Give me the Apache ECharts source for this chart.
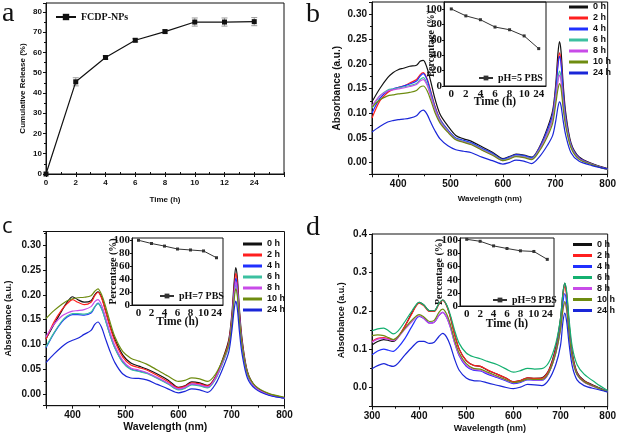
<!DOCTYPE html>
<html><head><meta charset="utf-8">
<script src="https://cdn.jsdelivr.net/npm/echarts@6.0.0/dist/echarts.min.js"></script>
<style>html,body{margin:0;padding:0;background:#fff}#c{width:619px;height:439px}</style>
</head><body><div id="c"></div>
<script>
// ---------- data ----------
const aTime = ['0','2','4','6','8','10','12','24'];
const aRelease = [0, 45.5, 57.5, 66, 70.3, 75, 75, 75.2];
const aError = [0, 2, 0.8, 0.8, 0.8, 2, 2, 2];

const insetTime = ['0','2','4','6','8','10','24'];
const insetPH5 = [100, 91, 86, 76.5, 73, 65, 48.5];
const insetPH7 = [100, 95, 91, 86.5, 85, 83.5, 73];
const insetPH9 = [101.5, 98.5, 91.5, 87.5, 84, 83, 71];

const hourNames = ['0 h','2 h','4 h','6 h','8 h','10 h','24 h'];

const wlBC = [350,365,380,390,400,410,422,435,442,448,455,462,470,480,495,510,525,540,560,580,600,612,625,640,655,670,685,695,701,705,708,711,715,720,730,745,770,800];
const wlD = [300,312,325,335,345,355,370,385,400,410,422,432,442,450,458,466,475,485,500,515,530,545,565,585,600,615,630,645,660,675,690,700,705,709,713,718,725,735,750,775,800];

const b0h = [.123,.150,.172,.182,.188,.191,.195,.197,.205,.207,.192,.165,.13,.098,.074,.055,.048,.043,.032,.021,.008,.012,.017,.015,.011,.032,.07,.105,.16,.22,.245,.225,.16,.1,.04,.012,-.002,-.012];
const b2h = [.09,.125,.142,.148,.152,.155,.161,.168,.178,.182,.17,.145,.115,.088,.065,.048,.042,.038,.028,.018,.006,.01,.015,.013,.009,.03,.065,.098,.15,.2,.222,.205,.145,.09,.036,.01,-.003,-.013];
const b4h = [.10,.13,.145,.149,.152,.155,.159,.165,.175,.18,.168,.143,.113,.087,.066,.05,.045,.04,.029,.019,.007,.011,.016,.014,.01,.03,.066,.098,.148,.195,.215,.2,.142,.09,.036,.01,-.003,-.013];
const b6h = [.11,.135,.147,.149,.151,.153,.156,.16,.168,.172,.16,.138,.11,.085,.064,.048,.043,.038,.027,.017,.005,.009,.014,.012,.008,.027,.06,.09,.135,.17,.185,.172,.125,.082,.033,.008,-.004,-.014];
const b8h = [.115,.135,.145,.147,.149,.151,.154,.158,.165,.168,.157,.135,.108,.083,.063,.047,.042,.037,.026,.016,.004,.008,.013,.011,.007,.026,.058,.087,.13,.163,.177,.165,.12,.079,.032,.008,-.004,-.014];
const b10h = [.112,.127,.135,.137,.139,.14,.142,.146,.153,.155,.146,.127,.102,.08,.061,.046,.041,.036,.025,.015,.004,.007,.012,.01,.006,.024,.053,.08,.12,.148,.16,.15,.11,.073,.03,.007,-.004,-.014];
const b24h = [.062,.073,.082,.085,.087,.088,.09,.095,.103,.106,.098,.082,.065,.048,.034,.026,.023,.02,.011,.004,-.003,0,.005,.003,-.002,.012,.035,.055,.085,.112,.123,.115,.085,.055,.02,.003,-.006,-.013];

const c0h = [.111,.14,.168,.185,.196,.19,.185,.188,.2,.206,.195,.17,.14,.11,.078,.062,.056,.05,.04,.028,.013,.016,.024,.022,.017,.035,.075,.11,.165,.225,.255,.235,.17,.11,.045,.015,0,-.008];
const c2h = [.11,.145,.17,.182,.19,.185,.18,.185,.198,.205,.193,.168,.138,.106,.074,.058,.053,.048,.037,.025,.012,.015,.022,.02,.016,.034,.072,.106,.158,.215,.243,.225,.163,.105,.043,.014,-.001,-.008];
const c4h = [.093,.122,.145,.155,.16,.16,.159,.163,.175,.183,.172,.15,.122,.093,.064,.05,.046,.042,.032,.021,.009,.012,.019,.017,.013,.031,.068,.1,.15,.205,.233,.215,.156,.1,.041,.013,-.002,-.009];
const c6h = [.095,.123,.147,.157,.162,.162,.161,.165,.176,.182,.171,.149,.121,.092,.063,.049,.045,.041,.031,.02,.008,.011,.018,.016,.012,.03,.066,.097,.145,.195,.22,.203,.148,.095,.039,.012,-.002,-.009];
const c8h = [.115,.14,.157,.163,.167,.168,.17,.176,.186,.19,.179,.156,.127,.097,.067,.052,.048,.043,.033,.022,.01,.013,.02,.018,.014,.032,.068,.1,.15,.2,.226,.208,.152,.098,.04,.013,-.002,-.009];
const c10h = [.152,.168,.181,.188,.192,.194,.195,.198,.207,.212,.2,.178,.148,.115,.085,.072,.066,.06,.048,.036,.025,.027,.032,.03,.025,.04,.072,.1,.145,.19,.212,.198,.148,.098,.042,.016,.001,-.007];
const c24h = [.063,.08,.095,.103,.108,.112,.12,.128,.14,.145,.134,.112,.088,.063,.04,.032,.031,.028,.019,.01,.002,.005,.01,.008,.003,.02,.055,.085,.13,.17,.187,.172,.125,.08,.032,.01,-.003,-.009];

const d0h = [.111,.12,.125,.123,.12,.13,.16,.195,.222,.215,.2,.2,.218,.228,.215,.185,.14,.1,.07,.058,.055,.045,.035,.024,.015,.018,.025,.024,.025,.045,.105,.18,.245,.272,.245,.17,.09,.04,.018,.003,-.01];
const d2h = [.12,.128,.13,.127,.123,.132,.16,.193,.22,.213,.198,.198,.217,.227,.214,.185,.14,.1,.07,.058,.055,.046,.035,.024,.015,.018,.025,.024,.024,.044,.1,.172,.235,.263,.237,.165,.087,.038,.017,.002,-.01];
const d4h = [.085,.095,.1,.097,.094,.104,.128,.16,.185,.18,.168,.17,.188,.196,.184,.158,.118,.083,.055,.045,.043,.035,.026,.017,.01,.013,.02,.019,.019,.038,.093,.16,.22,.245,.22,.152,.08,.035,.015,.001,-.01];
const d6h = [.148,.153,.155,.148,.14,.147,.172,.2,.222,.215,.2,.2,.219,.228,.216,.19,.15,.115,.09,.08,.075,.068,.06,.048,.04,.044,.05,.048,.049,.065,.115,.18,.245,.272,.25,.18,.105,.06,.035,.012,-.008];
const d8h = [.118,.126,.128,.125,.122,.13,.152,.172,.187,.18,.167,.17,.188,.196,.184,.158,.118,.085,.058,.047,.045,.037,.028,.019,.012,.015,.021,.02,.02,.038,.09,.15,.2,.22,.2,.14,.075,.033,.014,0,-.011];
const d10h = [.135,.137,.135,.13,.125,.133,.155,.176,.19,.184,.172,.175,.196,.204,.192,.166,.125,.09,.062,.05,.048,.04,.03,.02,.013,.016,.022,.021,.021,.039,.09,.152,.203,.224,.204,.143,.077,.034,.015,.001,-.011];
const d24h = [.049,.057,.062,.058,.055,.063,.085,.105,.12,.12,.115,.118,.133,.141,.132,.11,.075,.045,.025,.018,.017,.012,.006,0,-.003,.001,.008,.007,.005,.02,.06,.11,.17,.194,.172,.115,.055,.02,.005,-.004,-.012];

// ---------- style ----------
const SANS = 'Liberation Sans', SERIF = 'Liberation Serif';
const INK = '#111';
const hourColors = ['#111111','#ff1f1f','#2030ff','#3cc0a0','#c84be8','#6e8c10','#1a26d8'];
const hourColorsD = ['#111111','#ff1f1f','#2030ff','#14b070','#c84be8','#6e8c10','#1a26d8'];

function txt(size, fam, extra) { return Object.assign({fontFamily: fam, fontWeight: 'bold', fontSize: size, color: INK}, extra || {}); }
const axLine = {show: true, onZero: false, lineStyle: {color: INK, width: 1}};
const tick = {show: true, length: 3, lineStyle: {color: INK}};
const minor = {show: true, splitNumber: 2, length: 2, lineStyle: {color: INK}};
const noSplit = {show: false};

function spectra(wl, sets, xi, yi, colors) {
  return sets.map((vals, k) => ({
    type: 'line', name: hourNames[k], xAxisIndex: xi, yAxisIndex: yi,
    data: wl.map((w, i) => [w, vals[i]]), symbol: 'none', smooth: 0.3,
    lineStyle: {width: 1.2, color: colors[k]}, itemStyle: {color: colors[k]}
  }));
}

const grids = [
  {left: 46, top: 3, width: 238, height: 171},
  {left: 372, top: 2, width: 238.5, height: 172.3},
  {left: 46, top: 231.5, width: 238.5, height: 174.2},
  {left: 372, top: 234, width: 238, height: 172.7},
  {left: 444, top: 2, width: 102, height: 84},
  {left: 132, top: 238, width: 91, height: 67},
  {left: 460, top: 238, width: 94, height: 68}
].map(g => Object.assign({show: true, borderColor: INK, borderWidth: 1, backgroundColor: 'transparent', containLabel: false}, g));

function specX(gi, min, max, nameSize, nameGap) {
  const o = {type: 'value', gridIndex: gi, min: min, max: max, axisLine: axLine, axisTick: tick, minorTick: minor, splitLine: noSplit,
    axisLabel: txt(10, SANS, {margin: 5, showMinLabel: min % 100 === 0, showMaxLabel: true}),
    name: 'Wavelength (nm)', nameLocation: 'middle', nameGap: nameGap, nameMoveOverlap: false, nameTextStyle: txt(nameSize, SANS)};
  if (min % 100 === 0) o.interval = 100; else { o.minInterval = 100; o.maxInterval = 100; }
  return o;
}
function specY(gi, min, max, step, dec, nameSize, nameGap, showMax) {
  return {type: 'value', gridIndex: gi, min: min, max: max, minInterval: step, maxInterval: step,
    axisLine: axLine, axisTick: tick, minorTick: minor, splitLine: noSplit,
    axisLabel: txt(10, SANS, {margin: 5, showMinLabel: false, showMaxLabel: !!showMax, formatter: v => v.toFixed(dec)}),
    name: 'Absorbance (a.u.)', nameLocation: 'middle', nameGap: nameGap, nameMoveOverlap: false, nameTextStyle: txt(nameSize, SANS)};
}
function insetX(gi, gap) {
  return {type: 'category', gridIndex: gi, data: insetTime, boundaryGap: true,
    axisLine: axLine, axisTick: {show: false}, splitLine: noSplit,
    axisLabel: txt(11, SERIF, {margin: 3, interval: 0}),
    name: 'Time (h)', nameLocation: 'middle', nameGap: gap, nameMoveOverlap: false, nameTextStyle: txt(11.5, SERIF)};
}
function insetY(gi, max, gap) {
  return {type: 'value', gridIndex: gi, min: 0, max: max, interval: 20,
    axisLine: axLine, axisTick: {show: true, length: 2, lineStyle: {color: INK}}, splitLine: noSplit,
    axisLabel: txt(11, SERIF, {margin: 2, showMaxLabel: false}),
    name: 'Percentage (%)', nameLocation: 'middle', nameGap: gap, nameMoveOverlap: false, nameTextStyle: txt(10, SERIF)};
}

const xAxes = [
  {type: 'category', gridIndex: 0, data: aTime.concat(['']), boundaryGap: false,
   axisLine: axLine, axisTick: {show: true, length: 3, interval: 0, lineStyle: {color: INK}}, splitLine: noSplit,
   axisLabel: txt(8, SANS, {margin: 5, interval: 0}),
   name: 'Time (h)', nameLocation: 'middle', nameGap: 22, nameMoveOverlap: false, nameTextStyle: txt(8, SANS)},
  {type: 'value', gridIndex: 0, min: 0, max: 16, interval: 1, axisLine: {show: false},
   axisTick: {show: true, length: 2, lineStyle: {color: INK}}, axisLabel: {show: false}, splitLine: noSplit},
  specX(1, 350, 800, 8, 20),
  specX(2, 350, 800, 10.5, 16),
  specX(3, 300, 800, 9, 17),
  insetX(4, 10),
  insetX(5, 11),
  insetX(6, 12)
];
const yAxes = [
  {type: 'value', gridIndex: 0, min: 0, max: 84.4, interval: 10, axisLine: axLine, axisTick: tick, minorTick: minor, splitLine: noSplit,
   axisLabel: txt(8, SANS, {margin: 4, showMaxLabel: false}),
   name: 'Cumulative Release (%)', nameLocation: 'middle', nameGap: 19, nameMoveOverlap: false, nameTextStyle: txt(8, SANS)},
  specY(1, -0.0237, 0.325, 0.05, 2, 10, 30, false),
  specY(2, -0.024, 0.3277, 0.05, 2, 9, 33, false),
  specY(3, -0.05, 0.4, 0.1, 1, 9, 26, true),
  insetY(4, 109, 8),
  insetY(5, 103.5, 14),
  insetY(6, 103.5, 16)
];

const errData = aTime.map((t, i) => [i, aRelease[i], aError[i]]).filter(d => d[2] > 0);

const series = [
  {type: 'line', name: 'FCDP-NPs', xAxisIndex: 0, yAxisIndex: 0, data: aRelease,
   symbol: 'rect', symbolSize: 5, lineStyle: {width: 1.2, color: INK}, itemStyle: {color: INK}, z: 3},
  {type: 'custom', xAxisIndex: 0, yAxisIndex: 0, data: errData, z: 2,
   renderItem: (params, api) => {
     const x = api.value(0), y = api.value(1), e = api.value(2);
     const hi = api.coord([x, y + e]), lo = api.coord([x, y - e]);
     const s = {stroke: '#999', lineWidth: 1};
     return {type: 'group', children: [
       {type: 'line', shape: {x1: hi[0], y1: hi[1], x2: lo[0], y2: lo[1]}, style: s},
       {type: 'line', shape: {x1: hi[0] - 3, y1: hi[1], x2: hi[0] + 3, y2: hi[1]}, style: s},
       {type: 'line', shape: {x1: lo[0] - 3, y1: lo[1], x2: lo[0] + 3, y2: lo[1]}, style: s}
     ]};
   }},
  ...spectra(wlBC, [b0h, b2h, b4h, b6h, b8h, b10h, b24h], 2, 1, hourColors),
  ...spectra(wlBC, [c0h, c2h, c4h, c6h, c8h, c10h, c24h], 3, 2, hourColors),
  ...spectra(wlD, [d0h, d2h, d4h, d6h, d8h, d10h, d24h], 4, 3, hourColorsD),
  {type: 'line', name: 'pH=5 PBS', xAxisIndex: 5, yAxisIndex: 4, data: insetPH5, symbol: 'rect', symbolSize: 3,
   lineStyle: {width: 1, color: '#333'}, itemStyle: {color: '#333'}},
  {type: 'line', name: 'pH=7 PBS', xAxisIndex: 6, yAxisIndex: 5, data: insetPH7, symbol: 'rect', symbolSize: 3,
   lineStyle: {width: 1, color: '#333'}, itemStyle: {color: '#333'}},
  {type: 'line', name: 'pH=9 PBS', xAxisIndex: 7, yAxisIndex: 6, data: insetPH9, symbol: 'rect', symbolSize: 3,
   lineStyle: {width: 1, color: '#333'}, itemStyle: {color: '#333'}}
];

function hourLegend(left, top, colors) {
  return {orient: 'vertical', left: left, top: top, padding: 0, itemWidth: 19, itemHeight: 3, itemGap: 1,
    icon: 'rect', textStyle: txt(9, SANS, {lineHeight: 10}),
    data: hourNames.map((n, k) => ({name: n, itemStyle: {color: colors[k]}}))};
}
function insetLegend(name, left, top) {
  return {data: [name], left: left, top: top, padding: 0, itemWidth: 14, itemHeight: 6, textStyle: txt(10, SERIF)};
}

const chart = echarts.init(document.getElementById('c'), null, {renderer: 'canvas'});
chart.setOption({
  animation: false,
  backgroundColor: '#fff',
  grid: grids,
  xAxis: xAxes,
  yAxis: yAxes,
  legend: [
    {data: ['FCDP-NPs'], left: 55, top: 12, padding: 0, itemWidth: 20, itemHeight: 8, textStyle: txt(10, SERIF)},
    hourLegend(569, 2, hourColors),
    hourLegend(243, 239, hourColors),
    hourLegend(573, 239.5, hourColorsD),
    insetLegend('pH=5 PBS', 478, 73),
    insetLegend('pH=7 PBS', 159, 291),
    insetLegend('pH=9 PBS', 492, 295)
  ],
  graphic: [
    {type: 'text', left: 2, top: 0, style: {text: 'a', fontSize: 28, fontFamily: SERIF, fill: INK}},
    {type: 'text', left: 306, top: 1, style: {text: 'b', fontSize: 28, fontFamily: SERIF, fill: INK}},
    {type: 'text', left: 2, top: 216, style: {text: 'c', fontSize: 22, fontFamily: 'Open Sans', fill: INK}},
    {type: 'text', left: 306, top: 214, style: {text: 'd', fontSize: 28, fontFamily: SERIF, fill: INK}}
  ],
  series: series
});
</script></body></html>
